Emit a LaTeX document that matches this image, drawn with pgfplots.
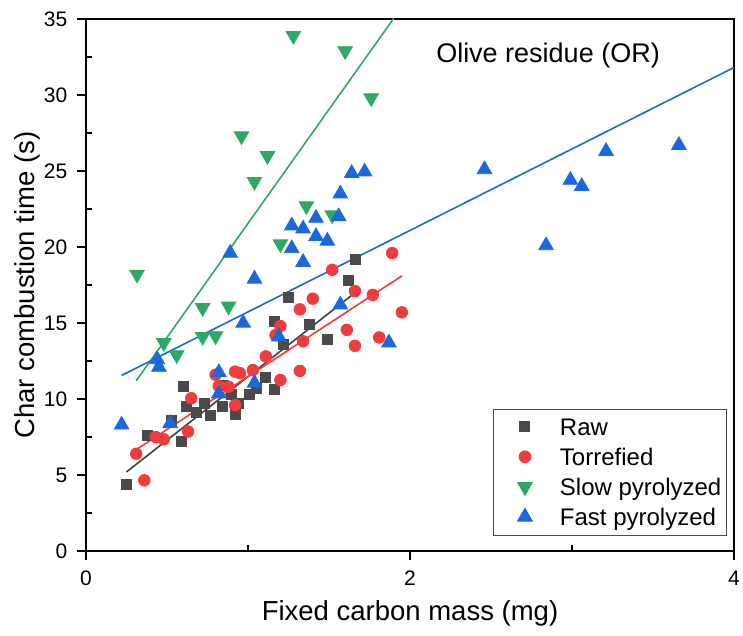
\documentclass[border=0pt]{standalone}
\usepackage{fontspec}
\setmainfont{Liberation Sans}
\usepackage{pgfplots}
\pgfplotsset{compat=1.18}
\definecolor{cRaw}{HTML}{4A4A4A}
\definecolor{cTor}{HTML}{F03C3C}
\definecolor{cSlow}{HTML}{2EA862}
\definecolor{cFast}{HTML}{1A68DC}
\definecolor{lRaw}{HTML}{404040}
\pgfplotsset{
  sc/.style={only marks, legend image code/.code={%
      \path[draw=none,fill=none] (0pt,-2pt) coordinate (lga) (30.5pt,10pt) coordinate (lgb);
      \draw[##1] plot coordinates {(13pt,4.3pt)};}},
}
\begin{document}
\begin{tikzpicture}
\begin{axis}[
  scale only axis, width=324pt, height=266pt,
  xmin=0, xmax=4, ymin=0, ymax=35,
  xtick={0,2,4}, ytick={0,5,...,35},
  minor x tick num=1, minor y tick num=1,
  tick align=outside, xtick pos=bottom, ytick pos=left,
  major tick length=4.5pt, minor tick length=2.8pt,
  minor x tick style={yshift=2.8pt}, minor y tick style={xshift=2.8pt},
  tick style={black, line width=0.6pt},
  axis line style={line width=0.7pt},
  ticklabel style={font=\fontsize{10.5}{12}\selectfont},
  xticklabel style={yshift=-1.8pt},
  yticklabel style={xshift=-1.3pt},
  /pgf/number format/assume math mode=true,
  xlabel={Fixed carbon mass (mg)},
  ylabel={Char combustion time (s)},
  xlabel style={at={(axis description cs:0.5,-0.1297)}, anchor=base, font=\fontsize{13.75}{16}\selectfont},
  ylabel style={at={(axis description cs:-0.0787,0.5)}, anchor=base, font=\fontsize{13.75}{16}\selectfont},
  legend style={at={(0.989,0.028)}, anchor=south east, draw=black!70, line width=0.5pt,
    inner xsep=2.5pt, inner ysep=3.1pt, row sep=3pt,
    font=\fontsize{12}{14}\selectfont,
    nodes={inner sep=0pt, text height=10pt, text depth=2pt, anchor=base west}},
  legend cell align=left,
]
\addplot[sc, mark=square*, mark size=2.5pt, color=cRaw] coordinates {
(0.25,4.4) (0.38,7.6) (0.53,8.6) (0.59,7.2) (0.60,10.8) (0.62,9.5) (0.68,9.1)
(0.73,9.7) (0.77,8.9) (0.84,9.5) (0.85,10.9) (0.90,10.3) (0.92,9.0) (0.94,9.7)
(1.01,10.3) (1.05,10.7) (1.11,11.4) (1.16,10.6) (1.16,15.1) (1.22,13.6)
(1.25,16.7) (1.38,14.9) (1.49,13.9) (1.62,17.8) (1.66,19.2)
};
\addlegendentry{Raw}
\addplot[sc, mark=*, mark size=2.9pt, color=cTor] coordinates {
(0.31,6.4) (0.36,4.65) (0.43,7.5) (0.48,7.35) (0.63,7.86) (0.65,10.05)
(0.80,11.6) (0.82,10.85) (0.88,10.8) (0.92,9.6) (0.92,11.8) (0.95,11.7)
(1.03,11.9) (1.11,12.8) (1.17,14.2) (1.20,14.8) (1.20,11.25) (1.32,11.85)
(1.34,13.8) (1.32,15.9) (1.40,16.6) (1.52,18.5) (1.61,14.55) (1.66,13.5)
(1.66,17.1) (1.77,16.85) (1.81,14.05) (1.89,19.6) (1.95,15.7)
};
\addlegendentry{Torrefied}
\addplot[sc, mark=triangle*, mark size=4.2pt, mark options={rotate=180}, color=cSlow] coordinates {
(0.315,18.2) (0.48,13.7) (0.56,12.9) (0.72,16.0) (0.72,14.1) (0.80,14.15)
(0.88,16.1) (0.96,27.3) (1.04,24.3) (1.12,26.0) (1.20,20.2) (1.28,33.9)
(1.36,22.7) (1.52,22.1) (1.60,32.9) (1.76,29.8)
};
\addlegendentry{Slow pyrolyzed}
\addplot[sc, mark=triangle*, mark size=4.2pt, color=cFast] coordinates {
(0.22,8.3) (0.44,12.6) (0.45,12.1) (0.52,8.4) (0.82,11.75) (0.82,10.35)
(0.89,19.6) (0.97,15.0) (1.04,17.9) (1.04,11.05) (1.19,14.1) (1.27,21.4)
(1.27,19.9) (1.34,21.2) (1.34,19.0) (1.42,21.9) (1.42,20.7) (1.49,20.4)
(1.56,22.0) (1.57,23.5) (1.57,16.2) (1.64,24.85) (1.72,24.95) (1.87,13.7)
(2.46,25.1) (2.84,20.1) (2.99,24.4) (3.06,24.0) (3.21,26.3) (3.66,26.7)
};
\addlegendentry{Fast pyrolyzed}
% linear fits
\addplot[forget plot, lRaw, line width=0.8pt] coordinates {(0.25,5.20) (1.66,16.99)};
\addplot[forget plot, cTor, line width=0.8pt] coordinates {(0.31,6.67) (1.95,18.10)};
\addplot[forget plot, cSlow, line width=0.8pt] coordinates {(0.31,11.20) (1.90,35.05)};
\addplot[forget plot, cFast, line width=0.8pt] coordinates {(0.22,11.55) (4.0,31.81)};
\node[anchor=base, font=\fontsize{13.5}{16}\selectfont] at (rel axis cs:0.713,0.918) {Olive residue (OR)};
\coordinate (ll) at (rel axis cs:0,0);
\coordinate (ur) at (rel axis cs:1,1);
\end{axis}
\pgfresetboundingbox
\path ([xshift=-43pt,yshift=-42.5pt]ll) rectangle ([xshift=4.5pt,yshift=9.5pt]ur);
\end{tikzpicture}
\end{document}
